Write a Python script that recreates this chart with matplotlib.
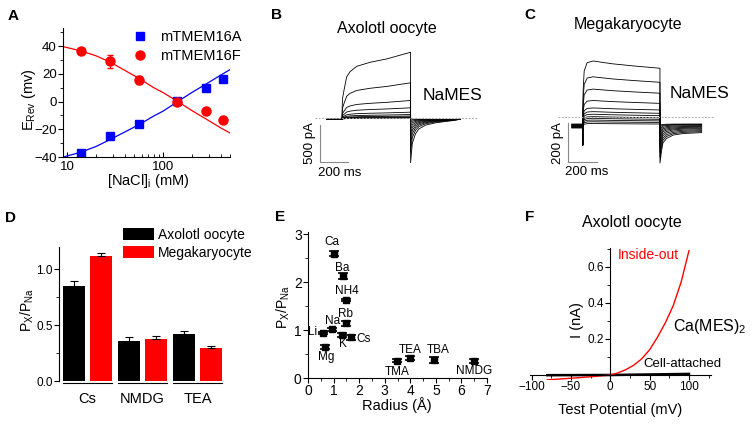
import matplotlib
matplotlib.use("Agg")
import matplotlib.pyplot as plt
from matplotlib.ticker import MultipleLocator, NullFormatter

plt.rcParams['font.family'] = ['Liberation Sans', 'DejaVu Sans']
plt.rcParams['mathtext.default'] = 'regular'
plt.rcParams['axes.linewidth'] = 0.8

W, H = 754, 425

# ---- A: reversal potential vs [NaCl]i
nacl = [14, 28, 56, 140, 280, 420]
erev_a = [-37, -25, -16, 0.5, 10, 16]
erev_a_err = [1.5, 2, 1.5, 1, 1.5, 1.5]
erev_f = [36.5, 29, 15.5, 0, -6.5, -13]
erev_f_err = [2, 4.5, 3, 1, 1.5, 1.5]
fit_x = [9.2, 14, 20, 28, 40, 57, 80, 100, 143, 200, 280, 400, 500]
fit_a = [-40, -36.5, -32.5, -27.5, -22, -16.5, -10.5, -7, 0, 6.5, 12.5, 19, 23]
fit_f = [39.5, 36.5, 33, 28.5, 22.5, 16.5, 10, 6.5, 0, -6.5, -12.5, -19, -22.7]

# ---- B: axolotl oocyte current traces (ms, pA)
b_t_act = [0, 3, 14, 33, 57, 105, 200, 319, 490]
b_act_shape = [0, 0.3, 0.43, 0.63, 0.71, 0.79, 0.85, 0.90, 1.0]
b_amp = [882, 469, 230, 131, 72, 40, 20, 8, 0, -8]
b_tail_peak = [-610, -470, -370, -290, -220, -160, -110, -70, -40, -20]
b_t_tail = [0, 12, 35, 59, 107, 178, 297, 353]
b_tail_shape = [1, 0.556, 0.333, 0.222, 0.133, 0.08, 0.03, 0]
b_hold = -25
b_start, b_end = -107, 843

# ---- C: megakaryocyte current traces (ms, pA)
c_t_act = [0, 3, 10, 30, 70, 200, 350, 522]
c_act_shape = [0, 0.6, 0.95, 1.1, 1.13, 1.08, 1.04, 1.0]
c_amp = [250, 178, 122, 70, 36, 19, 7, -4, -12, -20, -28, -36]
c_hold = [-36, -38, -40, -42, -44, -46, -48, -50, -52, -53, -55, -56]
c_tail_peak = [-236, -205, -180, -155, -135, -115, -100, -85, -72, -60, -50, -42]
c_tail_end = [-80, -75, -70, -65, -60, -56, -52, -48, -44, -40, -38, -36]
c_t_tail = [0, 11, 20, 45, 90, 158, 282]
c_tail_shape = [1, 0.6, 0.34, 0.19, 0.08, 0.03, 0]
c_onset_spike = -144
c_start, c_end = -74, 804

# ---- D: permeability ratios
ions_d = ['Cs', 'NMDG', 'TEA']
px_axolotl = [0.85, 0.36, 0.42]
px_axolotl_err = [0.05, 0.03, 0.025]
px_mega = [1.12, 0.38, 0.30]
px_mega_err = [0.03, 0.025, 0.012]

# ---- E: permeability vs radius
ions_e = ['Ca', 'Ba', 'NH4', 'Rb', 'Na', 'Li', 'K', 'Cs', 'Mg', 'TMA', 'TEA', 'TBA', 'NMDG']
radius = [1.0, 1.35, 1.48, 1.48, 0.95, 0.6, 1.33, 1.7, 0.65, 3.47, 4.0, 4.94, 6.5]
px_ratio = [2.6, 2.13, 1.63, 1.14, 1.02, 0.94, 0.9, 0.85, 0.64, 0.36, 0.42, 0.38, 0.36]
px_ratio_err = [0.06, 0.07, 0.03, 0.06, 0.03, 0.03, 0.05, 0.05, 0.04, 0.03, 0.05, 0.06, 0.04]
label_off = [(-2, 12), (0, 8), (1, 9), (0, 9), (0, 8), (-6, 1), (1, -9), (5, -2),
             (2, -10), (0, -11), (0, 8), (4, 10), (0, -10)]
label_ha = ['center'] * 5 + ['right', 'center', 'left'] + ['center'] * 5

# ---- F: I-V curves
v_io = [-80, -60, -40, -20, -10, 0, 10, 20, 30, 40, 50, 60, 70, 80, 90, 100]
i_io = [-0.027, -0.021, -0.015, -0.008, -0.004, 0, 0.012, 0.03, 0.055, 0.09, 0.14,
        0.21, 0.29, 0.385, 0.515, 0.69]
v_ca = [-80, 0, 50, 100]
i_ca = [-0.001, 0.0, 0.003, 0.006]


def fx(px):
    return px / W


def fy(py):
    return 1 - py / H


def rect(l, t, r, b):
    return [fx(l), fy(b), (r - l) / W, (b - t) / H]


fig = plt.figure(figsize=(W / 100, H / 100), dpi=100)

# panel letters
for s, x, y in [('A', 13, 16), ('B', 277, 15), ('C', 530, 15),
                ('D', 10, 218), ('E', 280, 217), ('F', 530, 217)]:
    fig.text(fx(x), fy(y), s, fontsize=11, fontweight='bold', ha='center', va='center')

# ================= A
ax = fig.add_axes(rect(63, 28, 230, 157))
ax.plot(fit_x, fit_a, color='blue', lw=0.9)
ax.plot(fit_x, fit_f, color='red', lw=0.9)
ax.errorbar(nacl, erev_a, yerr=erev_a_err, fmt='none', ecolor='blue', capsize=2.5, elinewidth=0.8)
ax.errorbar(nacl, erev_f, yerr=erev_f_err, fmt='none', ecolor='red', capsize=2.5, elinewidth=0.8)
ax.plot(nacl, erev_a, 's', color='blue', ms=6, label='mTMEM16A')
ax.plot(nacl, erev_f, 'o', color='red', ms=6.5, label='mTMEM16F')
ax.set_xscale('log')
ax.set_xlim(9.1, 500)
ax.set_ylim(-40, 53)
ax.set_xticks([10, 100])
ax.set_xticklabels(['10', '100'])
ax.xaxis.set_minor_formatter(NullFormatter())
ax.set_yticks([-40, -20, 0, 20, 40])
ax.yaxis.set_minor_locator(MultipleLocator(10))
ax.tick_params(axis='x', which='both', direction='in', labelsize=9.5, pad=3)
ax.tick_params(axis='y', which='both', labelsize=9.5, pad=1)
ax.tick_params(which='major', length=3.5)
ax.tick_params(which='minor', length=2)
for sp in ['top', 'right']:
    ax.spines[sp].set_visible(False)
ax.legend(loc='upper left', bbox_to_anchor=(fx(124), fy(23)), bbox_transform=fig.transFigure,
          frameon=False, fontsize=10.5, handlelength=1.2, handletextpad=0.8, labelspacing=0.3,
          borderpad=0)
fig.text(fx(29), fy(100), 'E$_{Rev}$ (mv)', rotation=90, fontsize=10.5, ha='center', va='center')
fig.text(fx(148), fy(181), '[NaCl]$_i$ (mM)', fontsize=10.5, ha='center', va='center')


# ================= B / C traces
def draw_traces(ax, t_act, shape, amps, holds, tails_pk, tails_end, t_tail, tail_shape,
                t_start, t_end, onset=None):
    t_off = t_act[-1]
    for i, amp in enumerate(amps):
        h = holds[i]
        ts = [t_start, 0]
        cs = [h, h]
        if onset is not None:
            ts += [0]
            cs += [onset]
        ts += list(t_act)
        cs += [h + (amp - h) * s for s in shape]
        te = tails_end[i]
        ts += [t_off + dt for dt in t_tail]
        cs += [te + (tails_pk[i] - te) * s for s in tail_shape]
        ts += [t_end]
        cs += [te]
        ax.plot(ts, cs, color='black', lw=0.6)


axb = fig.add_axes(rect(300, 35, 490, 180))
axb.axis('off')
axb.set_xlim((300 - 342) / 0.14, (490 - 342) / 0.14)
axb.set_ylim((117.5 - 180) / 0.074, (117.5 - 35) / 0.074)
draw_traces(axb, b_t_act, b_act_shape, b_amp, [b_hold] * len(b_amp), b_tail_peak,
            [b_hold] * len(b_amp), b_t_tail, b_tail_shape, b_start, b_end)
axb.plot([(315 - 342) / 0.14, (477 - 342) / 0.14], [0, 0], color='#aaaaaa', lw=0.8, ls=(0, (1.5, 1.5)))
axb.plot([-157, -157, 43], [-101, -601, -601], color='#888888', lw=0.8)
fig.text(fx(387), fy(28), 'Axolotl oocyte', fontsize=11.5, ha='center', va='center')
fig.text(fx(423), fy(95), 'NaMES', fontsize=12.5, ha='left', va='center')
fig.text(fx(310), fy(143), '500 pA', fontsize=9.5, rotation=90, ha='center', va='center')
fig.text(fx(318), fy(173), '200 ms', fontsize=9.5, ha='left', va='center')

axc = fig.add_axes(rect(555, 35, 740, 180))
axc.axis('off')
axc.set_xlim((555 - 582.7) / 0.148, (740 - 582.7) / 0.148)
axc.set_ylim((117 - 180) / 0.195, (117 - 35) / 0.195)
draw_traces(axc, c_t_act, c_act_shape, c_amp, c_hold, c_tail_peak, c_tail_end,
            c_t_tail, c_tail_shape, c_start, c_end, onset=c_onset_spike)
axc.plot([(558 - 582.7) / 0.148, (715 - 582.7) / 0.148], [0, 0], color='#aaaaaa', lw=0.8,
         ls=(0, (1.5, 1.5)))
axc.plot([-101, -101, 99], [-31, -231, -231], color='#888888', lw=0.8)
fig.text(fx(628), fy(25), 'Megakaryocyte', fontsize=11.5, ha='center', va='center')
fig.text(fx(670), fy(93), 'NaMES', fontsize=12.5, ha='left', va='center')
fig.text(fx(558), fy(143), '200 pA', fontsize=9.5, rotation=90, ha='center', va='center')
fig.text(fx(565), fy(172), '200 ms', fontsize=9.5, ha='left', va='center')

# ================= D
axd = fig.add_axes(rect(59, 247, 225, 381))
xs = list(range(len(ions_d)))
off, bw = 0.245, 0.39
axd.bar([x - off for x in xs], px_axolotl, bw, color='black', label='Axolotl oocyte',
        yerr=[[0] * 3, px_axolotl_err], capsize=3, error_kw=dict(lw=0.8, capthick=0.8))
axd.bar([x + off for x in xs], px_mega, bw, color='#ff0000', label='Megakaryocyte',
        yerr=[[0] * 3, px_mega_err], capsize=3, error_kw=dict(lw=0.8, capthick=0.8))
axd.set_xlim(-0.52, 2.5)
axd.set_ylim(0, 1.2)
axd.set_yticks([0, 0.5, 1.0])
axd.set_yticklabels(['0.0', '0.5', '1.0'])
axd.yaxis.set_minor_locator(MultipleLocator(0.25))
axd.tick_params(axis='y', which='major', length=3.5, labelsize=8.5, pad=1)
axd.tick_params(axis='y', which='minor', length=2)
axd.set_xticks(xs)
axd.set_xticklabels(ions_d, fontsize=10.5)
axd.tick_params(axis='x', length=0, pad=8)
for sp in ['top', 'right', 'bottom']:
    axd.spines[sp].set_visible(False)
for x in xs:
    axd.plot([x - 0.45, x + 0.45], [-0.018, -0.018], color='black', lw=0.8, clip_on=False)
axd.legend(loc='upper left', bbox_to_anchor=(fx(116), fy(221)), bbox_transform=fig.transFigure,
           frameon=False, fontsize=10, handlelength=2.2, handleheight=0.95, handletextpad=0.3,
           labelspacing=0.3, borderpad=0)
fig.text(fx(27), fy(310), 'P$_X$/P$_{Na}$', rotation=90, fontsize=10, ha='center', va='center')

# ================= E
axe = fig.add_axes(rect(308, 232, 487, 378))
axe.errorbar(radius, px_ratio, yerr=px_ratio_err, fmt='s', color='black', ms=4, capsize=3.5,
             elinewidth=0.8, capthick=1.2)
for name, x, y, o, ha in zip(ions_e, radius, px_ratio, label_off, label_ha):
    axe.annotate(name, (x, y), xytext=o, textcoords='offset pixels', ha=ha, va='center',
                 fontsize=8.5)
axe.set_xlim(0, 7)
axe.set_ylim(0, 3.05)
axe.xaxis.set_major_locator(MultipleLocator(1))
axe.xaxis.set_minor_locator(MultipleLocator(0.5))
axe.yaxis.set_major_locator(MultipleLocator(1))
axe.yaxis.set_minor_locator(MultipleLocator(0.5))
axe.tick_params(which='major', length=3.5, labelsize=10, pad=1)
axe.tick_params(which='minor', length=2)
for sp in ['top', 'right']:
    axe.spines[sp].set_visible(False)
fig.text(fx(283), fy(307), 'P$_X$/P$_{Na}$', rotation=90, fontsize=10, ha='center', va='center')
fig.text(fx(397), fy(405), 'Radius (Å)', fontsize=10.5, ha='center', va='center')

# ================= F
axf = fig.add_axes(rect(530, 248, 711, 380.4))
axf.plot(v_ca, i_ca, color='black', lw=1.8)
axf.plot(v_io, i_io, color='red', lw=1.0)
axf.set_xlim(-102, 128)
axf.set_ylim(-0.03, 0.705)
axf.spines['left'].set_position(('data', 0))
axf.spines['bottom'].set_position(('data', 0))
for sp in ['top', 'right']:
    axf.spines[sp].set_visible(False)
axf.set_xticks([-100, -50, 0, 50, 100])
axf.xaxis.set_minor_locator(MultipleLocator(25))
axf.set_yticks([0.2, 0.4, 0.6])
axf.yaxis.set_minor_locator(MultipleLocator(0.1))
axf.tick_params(which='major', length=3.5, labelsize=8.5, pad=1)
axf.tick_params(which='minor', length=2)
fig.text(fx(632), fy(222), 'Axolotl oocyte', fontsize=11.5, ha='center', va='center')
fig.text(fx(618), fy(255), 'Inside-out', fontsize=10, color='red', ha='left', va='center')
fig.text(fx(673), fy(327), 'Ca(MES)$_2$', fontsize=11.5, ha='left', va='center')
fig.text(fx(643), fy(364), 'Cell-attached', fontsize=9.5, ha='left', va='center')
fig.text(fx(577), fy(320), 'I (nA)', rotation=90, fontsize=10.5, ha='center', va='center')
fig.text(fx(620), fy(410), 'Test Potential (mV)', fontsize=10.5, ha='center', va='center')

fig.savefig('out.png', dpi=100)
